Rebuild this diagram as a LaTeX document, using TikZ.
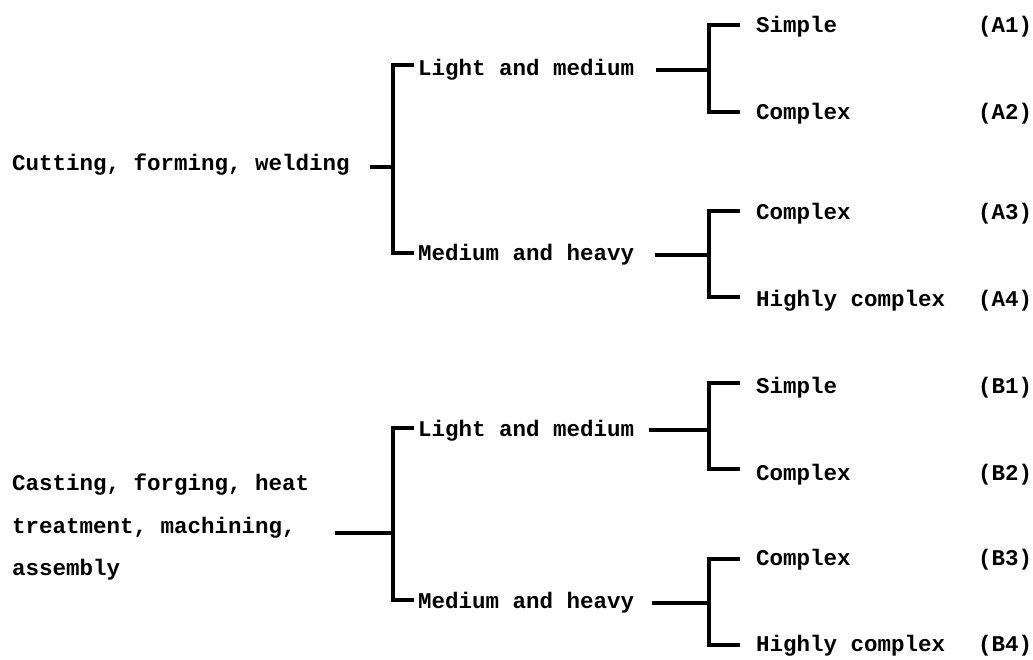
\documentclass[tikz,border=0pt]{standalone}
\usepackage{fontspec}
\setmonofont{Liberation Mono}
\newfontfamily\lblfont{Liberation Mono}
\begin{document}
\begin{tikzpicture}[x=1pt,y=-1pt,
  lbl/.style={anchor=base west,inner sep=0pt,font=\lblfont\bfseries\fontsize{22.5}{42.5}\selectfont},
  br/.style={line width=3.4pt,line join=miter,line cap=butt}]
\useasboundingbox (0,0) rectangle (1033,660);
% ---------- Group A ----------
\node[lbl] (cut) at (12,171) {Cutting, forming, welding};
\node[lbl] (lmA) at (418,76) {Light and medium};
\node[lbl] (mhA) at (418,261) {Medium and heavy};
\node[lbl] (sA1) at (756,33) {Simple};
\node[lbl] (cA2) at (756,120) {Complex};
\node[lbl] (cA3) at (756,220) {Complex};
\node[lbl] (hA4) at (756,306) {Highly complex};
\node[lbl] (A1) at (978,33) {(A1)};
\node[lbl] (A2) at (978,120) {(A2)};
\node[lbl] (A3) at (978,220) {(A3)};
\node[lbl] (A4) at (978,306) {(A4)};
% level 1 bracket A
\coordinate (cutE) at (370,167);
\coordinate (spA) at (393,167);
\coordinate (lmAtip) at (414,65);
\coordinate (mhAtip) at (414,253);
\draw[br] (lmAtip) -| (spA) |- (mhAtip);
\draw[br] (cutE) -- (spA);
% level 2 bracket A (light and medium)
\coordinate (lmAE) at (656,70);
\coordinate (spA1) at (709,70);
\coordinate (sA1tip) at (740,25);
\coordinate (cA2tip) at (740,112);
\draw[br] (sA1tip) -| (spA1) |- (cA2tip);
\draw[br] (lmAE) -- (spA1);
% level 2 bracket A (medium and heavy)
\coordinate (mhAE) at (655,255);
\coordinate (spA2) at (709,255);
\coordinate (cA3tip) at (740,211);
\coordinate (hA4tip) at (740,297);
\draw[br] (cA3tip) -| (spA2) |- (hA4tip);
\draw[br] (mhAE) -- (spA2);
% ---------- Group B ----------
\node[lbl] (cast) at (12,490) {Casting, forging, heat};
\node[lbl] (cast2) at (12,533) {treatment, machining,};
\node[lbl] (cast3) at (12,575) {assembly};
\node[lbl] (lmB) at (418,436) {Light and medium};
\node[lbl] (mhB) at (418,608) {Medium and heavy};
\node[lbl] (sB1) at (756,393) {Simple};
\node[lbl] (cB2) at (756,480) {Complex};
\node[lbl] (cB3) at (756,565) {Complex};
\node[lbl] (hB4) at (756,651) {Highly complex};
\node[lbl] (B1) at (978,393) {(B1)};
\node[lbl] (B2) at (978,480) {(B2)};
\node[lbl] (B3) at (978,565) {(B3)};
\node[lbl] (B4) at (978,651) {(B4)};
% level 1 bracket B
\coordinate (castE) at (335,533);
\coordinate (spB) at (393,533);
\coordinate (lmBtip) at (414,428);
\coordinate (mhBtip) at (414,600);
\draw[br] (lmBtip) -| (spB) |- (mhBtip);
\draw[br] (castE) -- (spB);
% level 2 bracket B (light and medium)
\coordinate (lmBE) at (649,430);
\coordinate (spB1) at (709,430);
\coordinate (sB1tip) at (740,383);
\coordinate (cB2tip) at (740,469);
\draw[br] (sB1tip) -| (spB1) |- (cB2tip);
\draw[br] (lmBE) -- (spB1);
% level 2 bracket B (medium and heavy)
\coordinate (mhBE) at (652,603);
\coordinate (spB2) at (709,603);
\coordinate (cB3tip) at (740,559);
\coordinate (hB4tip) at (740,645);
\draw[br] (cB3tip) -| (spB2) |- (hB4tip);
\draw[br] (mhBE) -- (spB2);
\end{tikzpicture}
\end{document}
